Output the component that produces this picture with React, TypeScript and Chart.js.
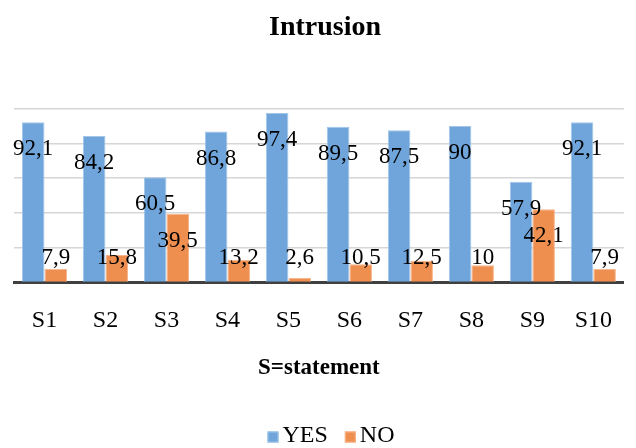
import React, { useEffect, useRef } from "react";
import { Chart, registerables } from "chart.js";

Chart.register(...registerables);

const categories = ["S1", "S2", "S3", "S4", "S5", "S6", "S7", "S8", "S9", "S10"];
const yesValues = [92.1, 84.2, 60.5, 86.8, 97.4, 89.5, 87.5, 90, 57.9, 92.1];
const noValues = [7.9, 15.8, 39.5, 13.2, 2.6, 10.5, 12.5, 10, 42.1, 7.9];
const chartTitle = "Intrusion";
const xAxisTitle = "S=statement";

const SERIF = "'Liberation Serif', 'Times New Roman', serif";

const labelPlugin = {
  id: "barLabels",
  afterDatasetsDraw(chart: any) {
    const ctx = chart.ctx;
    ctx.save();
    ctx.font = `23px ${SERIF}`;
    ctx.fillStyle = "#000000";
    ctx.textAlign = "center";
    ctx.textBaseline = "middle";
    chart.data.datasets.forEach((ds: any, di: number) => {
      const meta = chart.getDatasetMeta(di);
      meta.data.forEach((el: any, i: number) => {
        const v = ds.data[i];
        const base = el.base;
        const y = Math.min(el.y + 27, base - 24);
        ctx.fillText(String(v).replace(".", ","), el.x, y);
      });
    });
    ctx.restore();
  },
};

const legendPlugin = {
  id: "bottomLegend",
  afterDraw(chart: any) {
    const ctx = chart.ctx;
    const box = 11;
    const gap = 4;
    const itemGap = 17;
    const cy = chart.height - 12;
    ctx.save();
    ctx.font = `24px ${SERIF}`;
    ctx.textBaseline = "middle";
    ctx.textAlign = "left";
    const items = chart.data.datasets.map((ds: any) => ({
      label: ds.label,
      color: ds.backgroundColor,
      border: ds.borderColor,
      w: ctx.measureText(ds.label).width,
    }));
    const total =
      items.reduce((s: number, it: any) => s + box + gap + it.w, 0) + itemGap * (items.length - 1);
    let x = chart.width / 2 + 13 - total / 2;
    items.forEach((it: any) => {
      ctx.fillStyle = it.color;
      ctx.fillRect(x, cy - box / 2 + 1, box, box);
      ctx.strokeStyle = it.border;
      ctx.lineWidth = 1;
      ctx.strokeRect(x + 0.5, cy - box / 2 + 1.5, box - 1, box - 1);
      ctx.fillStyle = "#000000";
      ctx.fillText(it.label, x + box + gap, cy);
      x += box + gap + it.w + itemGap;
    });
    ctx.restore();
  },
};

export default function App() {
  const ref = useRef<HTMLCanvasElement>(null);
  useEffect(() => {
    if (!ref.current) return;
    const chart = new Chart(ref.current, {
      type: "bar",
      data: {
        labels: categories,
        datasets: [
          {
            label: "YES",
            data: yesValues,
            backgroundColor: "#6fa5da",
            borderColor: "#a2c6ea",
            borderWidth: 1,
            barPercentage: 1,
            categoryPercentage: 0.74,
          },
          {
            label: "NO",
            data: noValues,
            backgroundColor: "#ef8f4f",
            borderColor: "#f6b58c",
            borderWidth: 1,
            barPercentage: 1,
            categoryPercentage: 0.74,
          },
        ],
      },
      options: {
        animation: false,
        responsive: false,
        devicePixelRatio: 1,
        layout: { padding: { left: 14, right: 0, top: 11, bottom: 29 } },
        plugins: {
          title: {
            display: true,
            text: chartTitle,
            color: "#000000",
            font: { family: SERIF, size: 28, weight: "bold" },
            padding: { top: 0, bottom: 64 },
          },
          legend: { display: false },
          tooltip: { enabled: false },
        },
        scales: {
          x: {
            grid: { display: false, drawTicks: false },
            border: { display: true, color: "#404040", width: 3 },
            ticks: {
              color: "#000000",
              font: { family: SERIF, size: 24 },
              padding: 24,
            },
            title: {
              display: true,
              text: xAxisTitle,
              color: "#000000",
              font: { family: SERIF, size: 23, weight: "bold" },
              padding: { top: -5, bottom: 37 },
            },
          },
          y: {
            min: 0,
            max: 100,
            ticks: { display: false, stepSize: 20 },
            grid: { color: "#d6d6d6", lineWidth: 1.5, drawTicks: false },
            border: { display: false },
          },
        },
      },
      plugins: [labelPlugin, legendPlugin],
    });
    return () => chart.destroy();
  }, []);
  return (
    <div style={{ position: "fixed", left: 0, top: 0, width: 636, height: 448, background: "#fff" }}>
      <canvas ref={ref} width={636} height={448} />
    </div>
  );
}
